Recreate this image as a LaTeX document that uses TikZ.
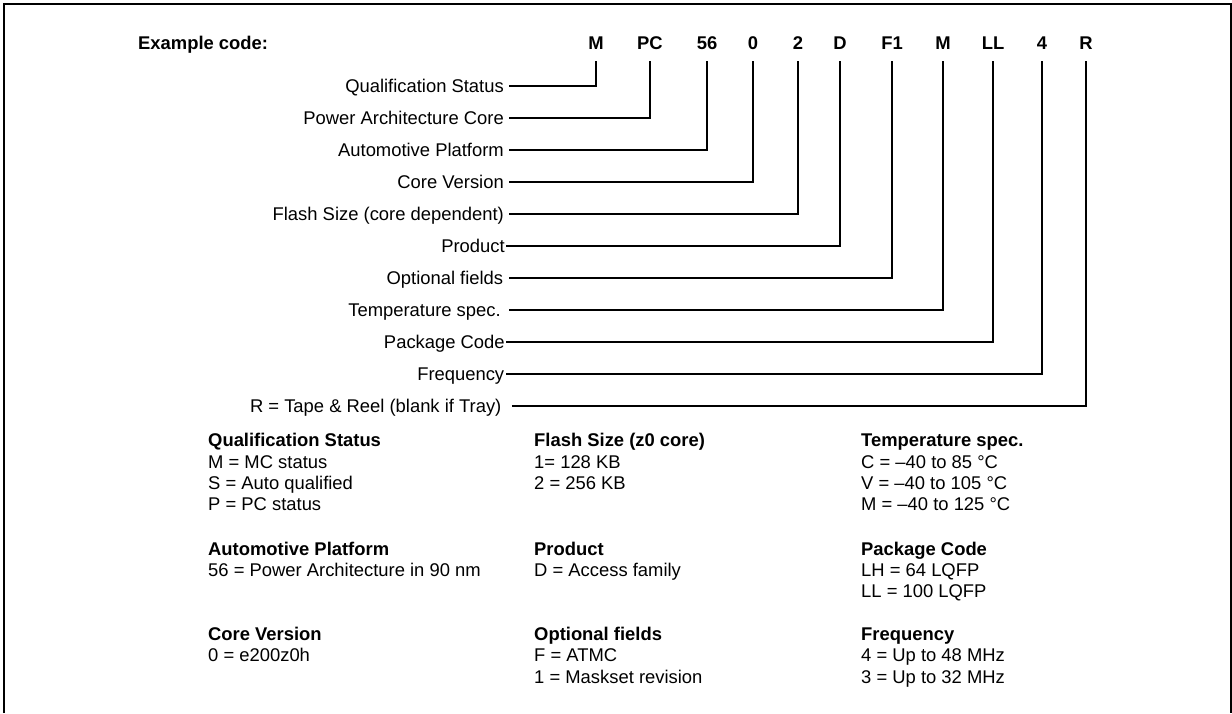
\documentclass[tikz,border=0pt]{standalone}
\usepackage{fontspec}
\setmainfont{Liberation Sans}
\newcommand{\fsz}{\fontsize{18.4pt}{22pt}\selectfont}
\begin{document}
\begin{tikzpicture}[x=1pt,y=-1pt,
  lbl/.style={anchor=east, inner xsep=#1, inner ysep=0pt, outer sep=0pt, text height=13.2pt, text depth=0pt, font=\fsz},
  lbl/.default=5.5pt,
  codeletter/.style={anchor=south, font=\fsz\bfseries, inner sep=0pt, outer ysep=11.7pt, text depth=0pt},
  conn/.style={line width=1.9pt},
  frame/.style={line width=1.7pt},
  lt/.style={anchor=base west, inner sep=0pt, font=\fsz\bfseries},
  ll/.style={anchor=base west, inner sep=0pt, font=\fsz}]
\useasboundingbox (0,0) rectangle (1232,713);
% frame (open at the bottom)
\coordinate (fbl) at (4.3,713);
\coordinate (ftl) at (4.3,4.3);
\coordinate (ftr) at (1231.2,4.3);
\coordinate (fbr) at (1231.2,713);
\draw[frame] (fbl) -- (ftl) -- (ftr) -- (fbr);

\node[anchor=base west, inner sep=0pt, font=\fsz\bfseries] (ex) at (138,49.3) {Example code:};

% code letters
\node[codeletter] (c1) at (596,61) {M};
\node[codeletter] (c2) at (650,61) {PC};
\node[codeletter] (c3) at (707,61) {56};
\node[codeletter] (c4) at (753,61) {0};
\node[codeletter] (c5) at (798,61) {2};
\node[codeletter] (c6) at (840,61) {D};
\node[codeletter] (c7) at (892,61) {F1};
\node[codeletter] (c8) at (943,61) {M};
\node[codeletter] (c9) at (993,61) {LL};
\node[codeletter] (c10) at (1042,61) {4};
\node[codeletter] (c11) at (1086,61) {R};

% labels
\node[lbl] (l1) at (509.3,85.6) {Qualification Status};
\node[lbl] (l2) at (509.3,117.7) {Power Architecture Core};
\node[lbl] (l3) at (509.3,149.7) {Automotive Platform};
\node[lbl] (l4) at (509.3,181.8) {Core Version};
\node[lbl] (l5) at (509.3,213.8) {Flash Size (core dependent)};
\node[lbl=1.5pt] (l6) at (506.2,245.9) {Product};
\node[lbl=6pt] (l7) at (509.2,277.9) {Optional fields};
\node[lbl=8.5pt] (l8) at (509.2,310) {Temperature spec.};
\node[lbl=1.5pt] (l9) at (506.2,342) {Package Code};
\node[lbl=2pt] (l10) at (506.2,374.1) {Frequency};
\node[lbl=10.5pt] (l11) at (511.9,406.1) {R = Tape \& Reel (blank if Tray)};

\foreach \i in {1,...,11} {
  \draw[conn] (l\i.east) -| (c\i.south);
}

% legend column 1
\node[lt] (q0) at (208,446.7) {Qualification Status};
\node[ll] (q1) at (208,468) {M = MC status};
\node[ll] (q2) at (208,489.3) {S = Auto qualified};
\node[ll] (q3) at (208,510.6) {P = PC status};
\node[lt] (a0) at (208,555) {Automotive Platform};
\node[ll] (a1) at (208,576.3) {56 = Power Architecture in 90 nm};
\node[lt] (v0) at (208,640.5) {Core Version};
\node[ll] (v1) at (208,661.8) {0 = e200z0h};

% legend column 2
\node[lt] (f0) at (534,446.7) {Flash Size (z0 core)};
\node[ll] (f1) at (534,468) {1= 128 KB};
\node[ll] (f2) at (534,489.3) {2 = 256 KB};
\node[lt] (p0) at (534,555) {Product};
\node[ll] (p1) at (534,576.3) {D = Access family};
\node[lt] (o0) at (534,640.5) {Optional fields};
\node[ll] (o1) at (534,661.8) {F = ATMC};
\node[ll] (o2) at (534,683.1) {1 = Maskset revision};

% legend column 3
\node[lt] (t0) at (861,446.7) {Temperature spec.};
\node[ll] (t1) at (861,468) {C = –40 to 85 °C};
\node[ll] (t2) at (861,489.3) {V = –40 to 105 °C};
\node[ll] (t3) at (861,510.6) {M = –40 to 125 °C};
\node[lt] (k0) at (861,555) {Package Code};
\node[ll] (k1) at (861,576.3) {LH = 64 LQFP};
\node[ll] (k2) at (861,597.6) {LL = 100 LQFP};
\node[lt] (r0) at (861,640.5) {Frequency};
\node[ll] (r1) at (861,661.8) {4 = Up to 48 MHz};
\node[ll] (r2) at (861,683.1) {3 = Up to 32 MHz};
\end{tikzpicture}
\end{document}
